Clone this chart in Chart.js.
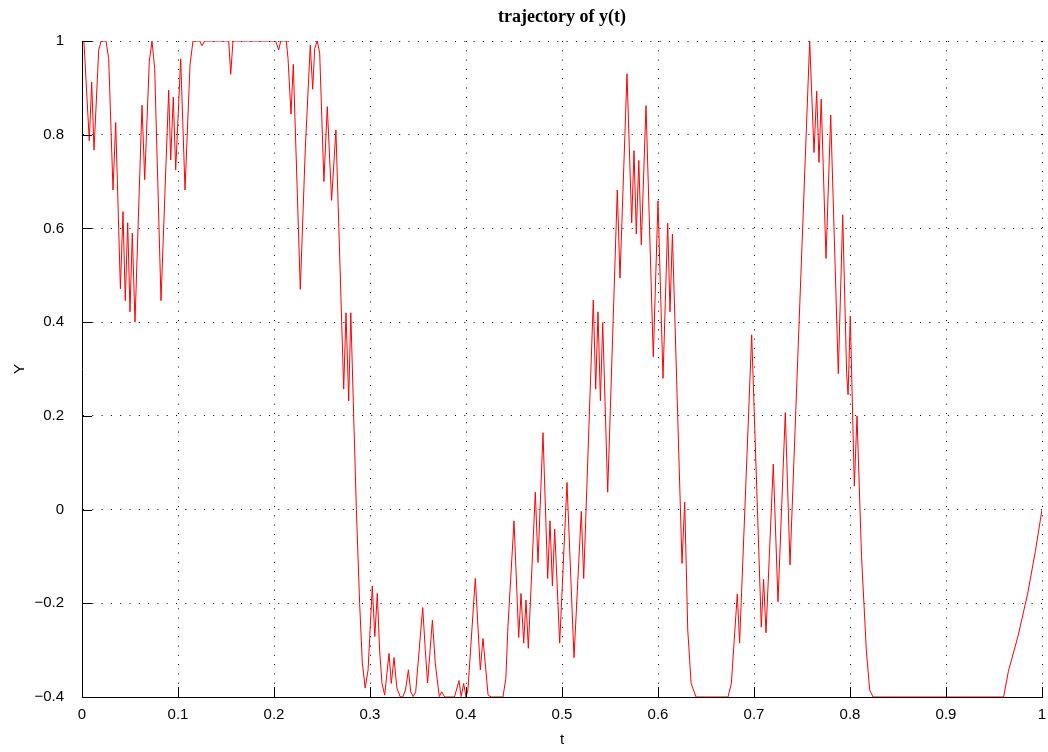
<!DOCTYPE html>
<html>
<head>
<meta charset="utf-8">
<script src="https://cdn.jsdelivr.net/npm/chart.js@4.4.0/dist/chart.umd.min.js"></script>
<style>
    html, body { margin: 0; padding: 0; background: #fff; }
    canvas { display: block; }
</style>
</head>
<body>
<canvas id="traj" width="1048" height="752" style="width:1048px;height:752px"></canvas>
<script>
// t samples and y(t) values
const tVals = [
    0, 0.002, 0.0076, 0.0101, 0.0125, 0.0174, 0.020, 0.025, 0.0278, 0.0323,
    0.0351, 0.040, 0.0427, 0.0451, 0.0476, 0.050, 0.0524, 0.0552, 0.0625, 0.0653,
    0.0701, 0.0729, 0.0757, 0.0823, 0.0903, 0.0924, 0.0951, 0.0976, 0.1028, 0.1073,
    0.1125, 0.1156, 0.1226, 0.125, 0.1278, 0.1528, 0.1549, 0.1573, 0.2017, 0.2049,
    0.207, 0.2128, 0.2146, 0.2177, 0.2201, 0.2274, 0.2326, 0.2378, 0.2403, 0.2424,
    0.2451, 0.2476, 0.252, 0.2555, 0.260, 0.2645, 0.2726, 0.275, 0.2778, 0.280,
    0.283, 0.2858, 0.2892, 0.292, 0.295, 0.298, 0.3024, 0.305, 0.3076, 0.310,
    0.3125, 0.3153, 0.3198, 0.3222, 0.325, 0.328, 0.3316, 0.334, 0.337, 0.340,
    0.3424, 0.345, 0.3476, 0.3549, 0.3576, 0.360, 0.365, 0.368, 0.3722, 0.3748,
    0.3778, 0.388, 0.3927, 0.395, 0.3976, 0.400, 0.402, 0.4097, 0.4149, 0.4177,
    0.423, 0.4264, 0.4385, 0.4415, 0.4437, 0.450, 0.4549, 0.4573, 0.4601, 0.4625,
    0.4649, 0.4722, 0.475, 0.4802, 0.4851, 0.4875, 0.490, 0.4924, 0.4976, 0.5052,
    0.5125, 0.5201, 0.5226, 0.5326, 0.5351, 0.5375, 0.540, 0.5424, 0.5476, 0.5576,
    0.5604, 0.5677, 0.5726, 0.575, 0.5774, 0.580, 0.5826, 0.5875, 0.5951, 0.600,
    0.6052, 0.6101, 0.6125, 0.615, 0.625, 0.6278, 0.631, 0.6345, 0.6396, 0.6729,
    0.6764, 0.6826, 0.685, 0.6976, 0.7076, 0.710, 0.7125, 0.7201, 0.725, 0.7326,
    0.7375, 0.758, 0.7625, 0.7653, 0.7677, 0.770, 0.775, 0.7799, 0.7878, 0.7924,
    0.7965, 0.798, 0.8003, 0.8045, 0.8073, 0.812, 0.817, 0.8205, 0.824, 0.960,
    0.965, 0.975, 0.985, 0.993, 1.0
];
const yVals = [
    1, 1, 0.787, 0.912, 0.767, 0.981, 1, 1, 0.963, 0.682,
    0.826, 0.471, 0.636, 0.446, 0.612, 0.422, 0.590, 0.400, 0.863, 0.704,
    0.956, 1, 0.942, 0.446, 0.895, 0.746, 0.880, 0.725, 0.962, 0.682,
    0.949, 1, 1, 0.99, 1, 1, 0.929, 1, 1, 0.981,
    1, 1, 0.963, 0.844, 0.950, 0.470, 0.77, 0.991, 0.897, 0.984,
    1, 0.974, 0.70, 0.86, 0.66, 0.81, 0.257, 0.42, 0.232, 0.42,
    0.2, 0, -0.2, -0.327, -0.381, -0.342, -0.163, -0.271, -0.179, -0.3,
    -0.371, -0.396, -0.307, -0.371, -0.316, -0.381, -0.4, -0.4, -0.385, -0.342,
    -0.389, -0.399, -0.389, -0.209, -0.3, -0.370, -0.236, -0.328, -0.399, -0.389,
    -0.4, -0.4, -0.365, -0.399, -0.371, -0.4, -0.385, -0.147, -0.342, -0.275,
    -0.396, -0.4, -0.4, -0.36, -0.25, -0.024, -0.273, -0.179, -0.285, -0.193,
    -0.296, 0.037, -0.113, 0.164, -0.147, -0.024, -0.163, -0.042, -0.285, 0.058,
    -0.316, -0.004, -0.147, 0.447, 0.257, 0.422, 0.232, 0.399, 0.037, 0.682,
    0.494, 0.930, 0.612, 0.766, 0.588, 0.745, 0.565, 0.862, 0.326, 0.659,
    0.28, 0.611, 0.422, 0.588, -0.115, 0.016, -0.257, -0.371, -0.4, -0.4,
    -0.371, -0.180, -0.285, 0.373, -0.251, -0.149, -0.263, 0.097, -0.197, 0.207,
    -0.118, 1.0, 0.762, 0.893, 0.741, 0.876, 0.536, 0.842, 0.29, 0.629,
    0.29, 0.245, 0.413, 0.05, 0.20, -0.1, -0.3, -0.385, -0.4, -0.4,
    -0.345, -0.27, -0.18, -0.09, 0
];
const titleText = 'trajectory of y(t)';

const fmt = v => {
    const r = Math.round(v * 10) / 10;
    return String(r).replace('-', '\u2212');
};

// title centred over the plot area, like the original
const titlePlugin = {
    id: 'plotTitle',
    afterDraw(chart) {
        const { ctx, chartArea } = chart;
        ctx.save();
        ctx.font = 'bold 18px "Liberation Serif"';
        ctx.fillStyle = '#000';
        ctx.textAlign = 'center';
        ctx.textBaseline = 'middle';
        ctx.fillText(titleText, (chartArea.left + chartArea.right) / 2, 17);
        ctx.restore();
    }
};

// short tick marks pointing into the plot
const innerTicks = {
    id: 'innerTicks',
    afterDatasetsDraw(chart) {
        const { ctx, chartArea, scales } = chart;
        ctx.save();
        ctx.strokeStyle = '#000';
        ctx.lineWidth = 1;
        ctx.beginPath();
        scales.y.ticks.forEach(t => {
            const y = Math.round(scales.y.getPixelForValue(t.value)) + 0.5;
            ctx.moveTo(chartArea.left, y);
            ctx.lineTo(chartArea.left + 10, y);
        });
        scales.x.ticks.forEach(t => {
            const x = Math.round(scales.x.getPixelForValue(t.value)) + 0.5;
            ctx.moveTo(x, chartArea.bottom);
            ctx.lineTo(x, chartArea.bottom - 10);
        });
        ctx.stroke();
        ctx.restore();
    }
};

const tickFont = { family: '"Liberation Sans"', size: 15 };

new Chart(document.getElementById('traj'), {
    type: 'scatter',
    data: {
        datasets: [{
            data: tVals.map((t, i) => ({ x: t, y: yVals[i] })),
            showLine: true,
            borderColor: '#ff0000',
            borderWidth: 1,
            pointRadius: 0,
            tension: 0
        }]
    },
    options: {
        responsive: false,
        animation: false,
        layout: { padding: { top: 41, right: 6, left: 0, bottom: 0 } },
        plugins: { legend: { display: false }, tooltip: { enabled: false } },
        scales: {
            x: {
                type: 'linear',
                min: 0,
                max: 1,
                afterFit: s => { s.height = 55; s.paddingLeft = 0; s.paddingRight = 0; },
                grid: { color: '#000', lineWidth: 1, drawTicks: false },
                border: { display: true, color: '#000', width: 1, dash: [1, 8.3] },
                ticks: { stepSize: 0.1, padding: 9, color: '#000', font: tickFont, callback: fmt, maxRotation: 0 },
                title: { display: true, text: 't', color: '#000', font: tickFont, padding: { top: 0, bottom: 3 } }
            },
            y: {
                min: -0.4,
                max: 1,
                afterFit: s => { s.width = 82; s.paddingTop = 0; s.paddingBottom = 0; },
                grid: { color: '#000', lineWidth: 1, drawTicks: false },
                border: { display: true, color: '#000', width: 1, dash: [1, 8.3] },
                ticks: { stepSize: 0.2, padding: 18, color: '#000', font: tickFont, callback: fmt },
                title: { display: true, text: 'Y', color: '#000', font: tickFont, padding: { top: 11, bottom: 0 } }
            }
        }
    },
    plugins: [titlePlugin, innerTicks]
});
</script>
</body>
</html>
